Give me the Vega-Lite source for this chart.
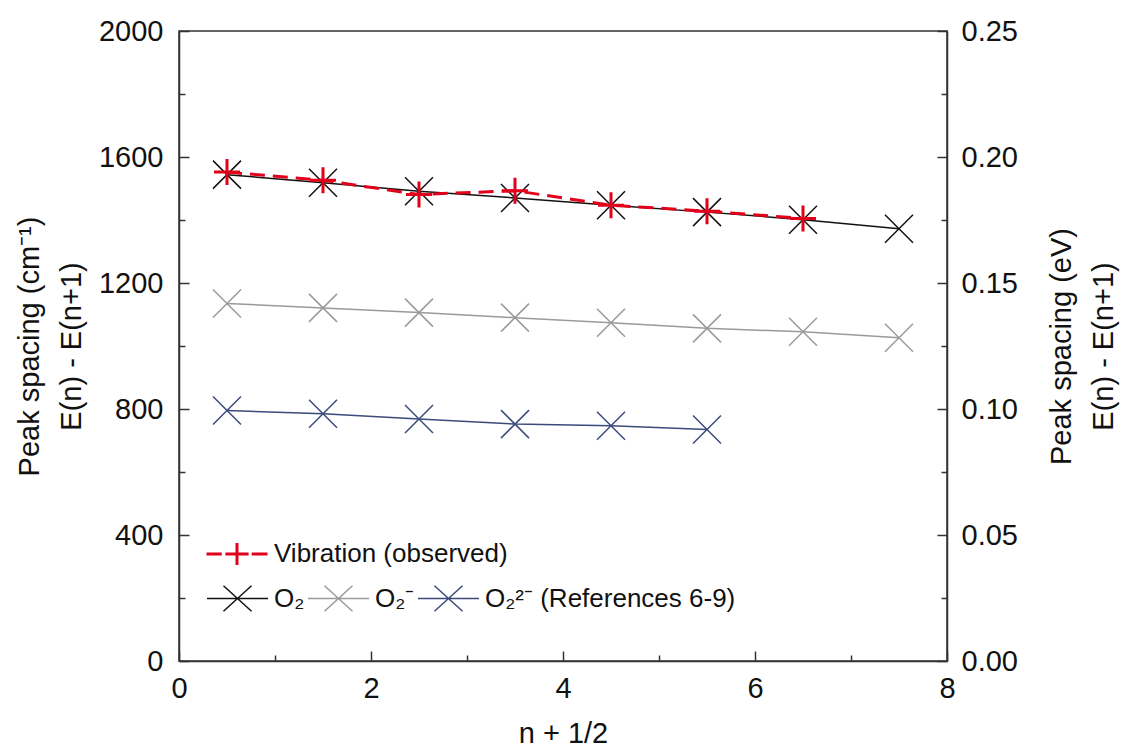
{
  "$schema": "https://vega.github.io/schema/vega-lite/v6.json",
  "width": 768,
  "height": 630,
  "autosize": {"type": "none"},
  "padding": {"left": 179, "top": 31, "right": 177, "bottom": 90},
  "background": "white",
  "config": {
    "view": {"stroke": "#333", "strokeWidth": 1.5},
    "axis": {
      "labelFont": "Liberation Sans", "labelFontSize": 29, "labelColor": "#111",
      "titleFont": "Liberation Sans", "titleFontSize": 29, "titleFontWeight": "normal", "titleColor": "#111",
      "domainColor": "#333", "domainWidth": 1.5, "tickColor": "#333", "tickWidth": 1.5,
      "grid": false, "labelFlush": false, "labelOverlap": false
    },
    "legend": {
      "labelFont": "Liberation Sans", "labelFontSize": 26, "labelColor": "#111", "labelLimit": 0,
      "padding": 0, "labelOffset": 5, "titlePadding": 0
    }
  },
  "layer": [
    {
      "data": {"values": [
        {"x": 0.5, "cm": 1544, "s": "O₂"},
        {"x": 1.5, "cm": 1518, "s": "O₂"},
        {"x": 2.5, "cm": 1491, "s": "O₂"},
        {"x": 3.5, "cm": 1470, "s": "O₂"},
        {"x": 4.5, "cm": 1447, "s": "O₂"},
        {"x": 5.5, "cm": 1425, "s": "O₂"},
        {"x": 6.5, "cm": 1401, "s": "O₂"},
        {"x": 7.5, "cm": 1372, "s": "O₂"},
        {"x": 0.5, "cm": 1135, "s": "O₂⁻"},
        {"x": 1.5, "cm": 1121, "s": "O₂⁻"},
        {"x": 2.5, "cm": 1106, "s": "O₂⁻"},
        {"x": 3.5, "cm": 1090, "s": "O₂⁻"},
        {"x": 4.5, "cm": 1074, "s": "O₂⁻"},
        {"x": 5.5, "cm": 1056, "s": "O₂⁻"},
        {"x": 6.5, "cm": 1045, "s": "O₂⁻"},
        {"x": 7.5, "cm": 1026, "s": "O₂⁻"},
        {"x": 0.5, "cm": 795, "s": "O₂²⁻ (References 6-9)"},
        {"x": 1.5, "cm": 785, "s": "O₂²⁻ (References 6-9)"},
        {"x": 2.5, "cm": 768, "s": "O₂²⁻ (References 6-9)"},
        {"x": 3.5, "cm": 752, "s": "O₂²⁻ (References 6-9)"},
        {"x": 4.5, "cm": 747, "s": "O₂²⁻ (References 6-9)"},
        {"x": 5.5, "cm": 735, "s": "O₂²⁻ (References 6-9)"}
      ]},
      "encoding": {
        "x": {"field": "x", "type": "quantitative", "scale": {"domain": [0, 8], "nice": false},
          "axis": {
            "values": [0, 1, 2, 3, 4, 5, 6, 7, 8],
            "format": "d",
            "labelExpr": "datum.value % 2 === 0 ? datum.label : ''",
            "tickSize": {"condition": {"test": "datum.value % 2 === 0", "value": -10}, "value": -6},
            "labelPadding": 23,
            "title": "n + 1/2", "titleFontSize": 29, "titleY": 81, "titleBaseline": "alphabetic"
          }},
        "y": {"field": "cm", "type": "quantitative", "scale": {"domain": [0, 2000], "nice": false},
          "axis": {
            "values": [0, 200, 400, 600, 800, 1000, 1200, 1400, 1600, 1800, 2000],
            "format": "d",
            "labelExpr": "datum.value % 400 === 0 ? datum.label : ''",
            "tickSize": {"condition": {"test": "datum.value % 400 === 0", "value": -10}, "value": -6},
            "labelPadding": 26,
            "title": ["Peak spacing (cm⁻¹)", "E(n) - E(n+1)"],
            "titleX": -164, "titleY": 315, "titleAngle": -90, "titleAlign": "center",
            "titleBaseline": "top", "titleLineHeight": 42
          }},
        "color": {"field": "s", "type": "nominal",
          "scale": {"domain": ["O₂", "O₂⁻", "O₂²⁻ (References 6-9)"], "range": ["#111111", "#9a9a9a", "#3b4a7c"]},
          "legend": {
            "title": null, "orient": "none", "direction": "horizontal", "legendX": 27, "legendY": 536,
            "symbolType": "M-1,0H1M-0.46,-0.42L0.46,0.42M-0.46,0.42L0.46,-0.42",
            "symbolSize": 3721, "symbolStrokeWidth": 1.5, "symbolFillColor": "transparent",
            "columnPadding": 0, "gridAlign": "none"
          }}
      },
      "layer": [
        {"mark": {"type": "line", "strokeWidth": 1.5}},
        {"mark": {"type": "point", "shape": "M-1,-1L1,1M-1,1L1,-1", "filled": false, "size": 784, "strokeWidth": 1.5, "opacity": 1}}
      ]
    },
    {
      "data": {"values": [
        {"x": 0.5, "cm": 1552, "v": "Vibration (observed)"},
        {"x": 1.5, "cm": 1526, "v": "Vibration (observed)"},
        {"x": 2.5, "cm": 1481, "v": "Vibration (observed)"},
        {"x": 3.5, "cm": 1493, "v": "Vibration (observed)"},
        {"x": 4.5, "cm": 1447, "v": "Vibration (observed)"},
        {"x": 5.5, "cm": 1428, "v": "Vibration (observed)"},
        {"x": 6.5, "cm": 1405, "v": "Vibration (observed)"}
      ]},
      "encoding": {
        "x": {"field": "x", "type": "quantitative"},
        "y": {"field": "cm", "type": "quantitative", "scale": {"domain": [0, 2000], "nice": false}, "axis": null},
        "color": {"field": "v", "type": "nominal",
          "scale": {"range": ["#e2001a"]},
          "legend": {
            "title": null, "orient": "none", "legendX": 26, "legendY": 491,
            "symbolType": "M-1,0H-0.5M-0.38,0H0.38M0.48,0H1M0,-0.36V0.36",
            "symbolSize": 3721, "symbolStrokeWidth": 3, "symbolFillColor": "transparent"
          }}
      },
      "layer": [
        {"mark": {"type": "line", "strokeWidth": 3, "strokeDash": [15, 8]}},
        {"mark": {"type": "point", "shape": "M-1,0H1M0,-1V1", "filled": false, "size": 676, "strokeWidth": 3, "opacity": 1}}
      ]
    },
    {
      "mark": {"type": "rule", "opacity": 0},
      "encoding": {
        "y": {"datum": 0, "type": "quantitative", "scale": {"domain": [0, 0.25], "nice": false},
          "axis": {
            "orient": "right",
            "values": [0, 0.025, 0.05, 0.075, 0.1, 0.125, 0.15, 0.175, 0.2, 0.225, 0.25],
            "format": ".2f",
            "labelExpr": "abs(round(datum.value * 1000) % 50) === 0 ? datum.label : ''",
            "tickSize": {"condition": {"test": "abs(round(datum.value * 1000) % 50) === 0", "value": -10}, "value": -6},
            "labelPadding": 24,
            "title": ["Peak spacing (eV)", "E(n) - E(n+1)"],
            "titleX": 100, "titleY": 315, "titleAngle": -90, "titleAlign": "center",
            "titleBaseline": "top", "titleLineHeight": 42
          }}
      }
    }
  ],
  "resolve": {"scale": {"y": "independent", "color": "independent"}}
}
